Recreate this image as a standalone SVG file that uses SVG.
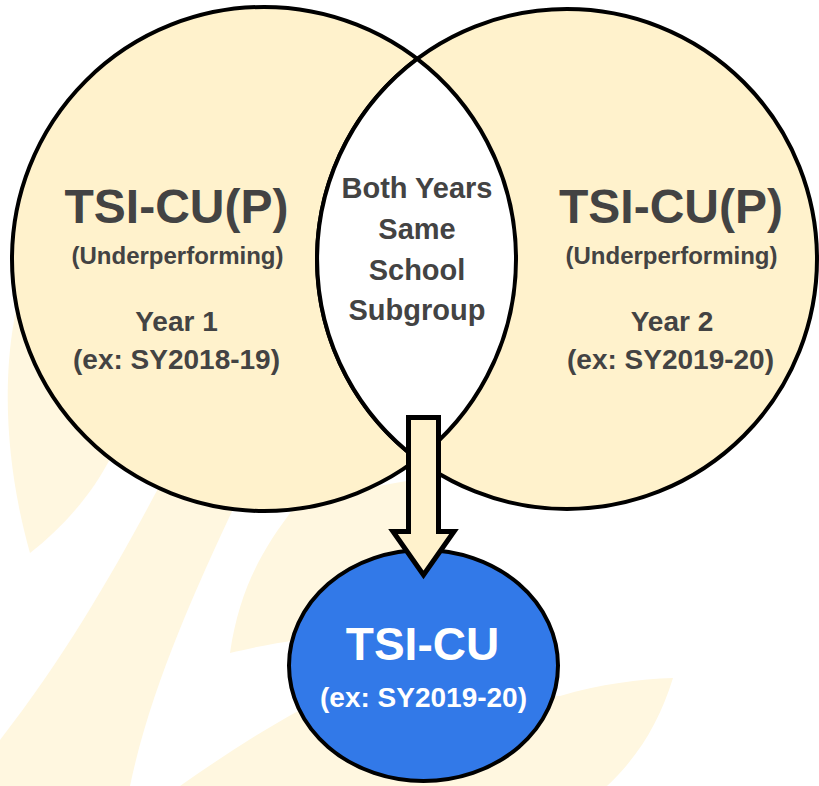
<svg xmlns="http://www.w3.org/2000/svg" width="819" height="786" viewBox="0 0 819 786">
<style>
.bg{fill:#FFF7E0;stroke:none}
.set{fill:#FFF2CC;stroke:#000;stroke-width:4}
.t{font-family:"Liberation Sans",Arial,sans-serif;font-weight:bold;fill:#434343;text-anchor:middle}
.w{font-family:"Liberation Sans",Arial,sans-serif;font-weight:bold;fill:#FFFFFF;text-anchor:middle}
</style>
<rect width="819" height="786" fill="#FFFFFF"/>
<g id="background">
<path class="bg" d="M30,553 C15,500 6,440 8,380 C9,350 12,330 18,300 L150,300 L112,455 C92,495 62,528 30,553 Z"/>
<path class="bg" d="M160,485 C120,560 70,650 0,740 L0,786 L130,786 C150,690 195,590 235,505 Z"/>
<path class="bg" d="M230,653 C240,585 265,545 300,500 L412,480 L412,560 L300,640 C275,643 250,648 230,653 Z"/>
<path class="bg" d="M180,786 C220,758 258,733 300,710 L420,690 L560,696 C600,684 640,679 673,678 C660,720 640,755 607,786 Z"/>
</g>
<g id="year1">
<circle class="set" cx="264" cy="259" r="252"/>
</g>
<g id="year2">
<circle class="set" cx="567" cy="259" r="250"/>
</g>
<g id="overlap">
<path d="M417.2,58.9 A252,252 0 0 1 417.2,459.1 A250,250 0 0 1 417.2,58.9 Z" fill="#FFFFFF" stroke="#000" stroke-width="4"/>
</g>
<g id="tsicu">
<ellipse cx="423.5" cy="665.5" rx="134.5" ry="115.5" fill="#3279E8" stroke="#000" stroke-width="4"/>
</g>
<g id="connectors">
<path d="M408.5,417.5 L438.5,417.5 L438.5,531.5 L454,531.5 L423.5,575 L393,531.5 L408.5,531.5 Z" fill="#FFF2CC" stroke="#000" stroke-width="5" stroke-linejoin="miter" stroke-miterlimit="10"/>
</g>
<g id="labels">
<g id="year1-text">
<text class="t" x="176.5" y="223" font-size="48">TSI-CU(P)</text>
<text class="t" x="177.5" y="264" font-size="24">(Underperforming)</text>
<text class="t" x="176.5" y="331" font-size="28">Year 1</text>
<text class="t" x="176.5" y="369" font-size="28">(ex: SY2018-19)</text>
</g>
<g id="year2-text">
<text class="t" x="671" y="223" font-size="48">TSI-CU(P)</text>
<text class="t" x="671.5" y="264" font-size="24">(Underperforming)</text>
<text class="t" x="672" y="331" font-size="28">Year 2</text>
<text class="t" x="670.5" y="369" font-size="28">(ex: SY2019-20)</text>
</g>
<g id="overlap-text">
<text class="t" x="417" y="198" font-size="29">Both Years</text>
<text class="t" x="417" y="239" font-size="29">Same</text>
<text class="t" x="417" y="279.5" font-size="29">School</text>
<text class="t" x="417" y="319.5" font-size="29">Subgroup</text>
</g>
<g id="tsicu-text">
<text class="w" x="422.5" y="660" font-size="46">TSI-CU</text>
<text class="w" x="423.5" y="707" font-size="28">(ex: SY2019-20)</text>
</g>
</g>
</svg>
